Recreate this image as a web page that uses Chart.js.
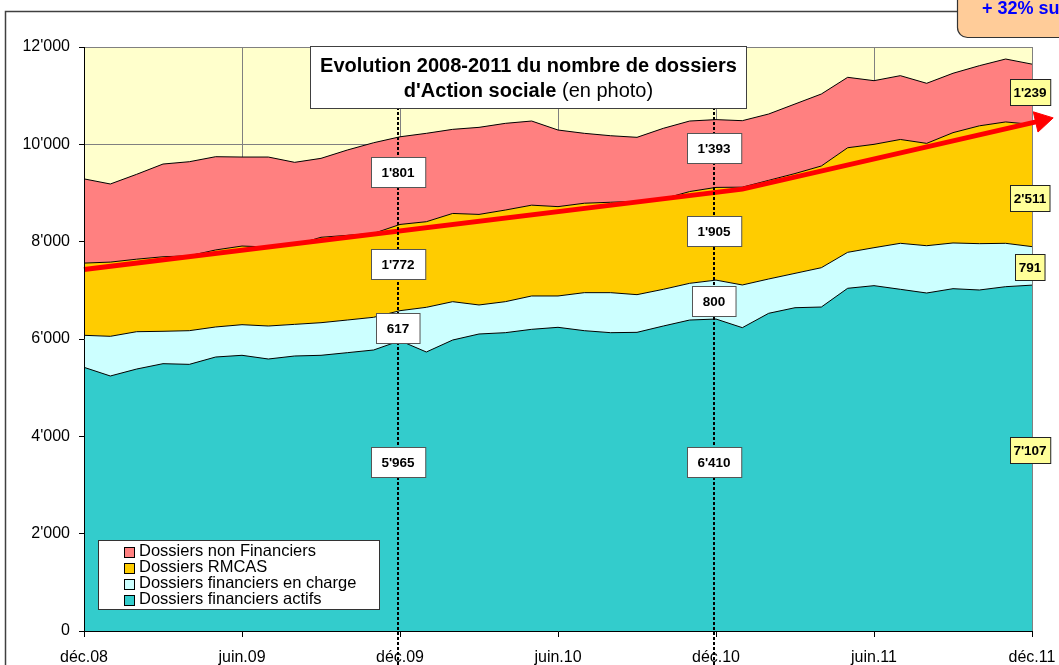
<!DOCTYPE html>
<html>
<head>
<meta charset="utf-8">
<script src="https://cdn.jsdelivr.net/npm/chart.js@4.4.1/dist/chart.umd.min.js"></script>
<style>
html,body{margin:0;padding:0;background:#fff;}
canvas{display:block;}
</style>
</head>
<body>
<canvas id="c" width="1059" height="665"></canvas>
<script>
// ---------- DATA ----------
const months = ['déc.08','janv.09','févr.09','mars.09','avr.09','mai.09','juin.09','juil.09','août.09','sept.09','oct.09','nov.09',
  'déc.09','janv.10','févr.10','mars.10','avr.10','mai.10','juin.10','juil.10','août.10','sept.10','oct.10','nov.10',
  'déc.10','janv.11','févr.11','mars.11','avr.11','mai.11','juin.11','juil.11','août.11','sept.11','oct.11','nov.11','déc.11'];

const actifs = [5418,5240,5383,5493,5479,5630,5665,5589,5651,5665,5719,5774,5965,5733,5979,6103,6130,6199,6240,6171,6130,6137,6267,6390,6410,6233,6528,6643,6657,7042,7096,7021,6945,7034,7007,7075,7107];
const enCharge = [658,815,767,665,692,617,629,678,650,670,671,672,617,918,788,596,637,685,644,781,822,774,754,754,800,877,705,706,808,739,780,945,972,939,952,891,791];
const rmcas = [1484,1525,1490,1532,1539,1583,1616,1623,1629,1755,1740,1724,1772,1759,1813,1861,1883,1866,1836,1838,1858,1919,1859,1886,1905,2010,2027,2051,2090,2149,2124,2134,2103,2267,2421,2494,2511];
const nonFin = [1730,1605,1744,1905,1933,1916,1829,1849,1700,1622,1753,1863,1801,1816,1728,1789,1781,1729,1574,1436,1367,1314,1449,1449,1393,1366,1363,1429,1479,1447,1308,1311,1234,1220,1236,1293,1239];

const trendIdx = [0, 25, 36.36];
const trendVals = [7430, 9080, 10488];

const yTickLabels = ["0","2'000","4'000","6'000","8'000","10'000","12'000"];
const seriesNames = ['Dossiers financiers actifs','Dossiers financiers en charge','Dossiers RMCAS','Dossiers non Financiers'];

// annotated months and where their boxes sit (in data units)
const annotIdx = [12, 24, 36];
const annotY = [[9430,7540,6230,3470],[9925,8220,6780,3470],[11075,8900,7480,3720]];

// ---------- STYLE ----------
const FONT = "'Liberation Sans', Arial, sans-serif";
const colors = ['#33CCCC','#CCFFFF','#FFCC00','#FF8080'];
const fmt = v => v >= 1000 ? Math.floor(v/1000) + "'" + String(v % 1000).padStart(3,'0') : String(v);
const toXY = arr => arr.map((v,i) => ({x:i, y:v}));

const decor = {
  id: 'decor',
  beforeDraw(chart) {
    const {ctx, chartArea: a} = chart;
    ctx.save();
    ctx.fillStyle = '#FFFFCC';
    ctx.fillRect(a.left, a.top, a.right - a.left, a.bottom - a.top);
    // outer frame
    ctx.strokeStyle = '#404040';
    ctx.lineWidth = 1.5;
    ctx.beginPath();
    ctx.moveTo(5.5, 666); ctx.lineTo(5.5, 11.5); ctx.lineTo(958, 11.5);
    ctx.stroke();
    ctx.restore();
  },
  afterDatasetsDraw(chart) {
    const {ctx, chartArea: a} = chart;
    const xs = chart.scales.x, ys = chart.scales.y;
    ctx.save();
    // dotted vertical markers
    ctx.strokeStyle = '#000';
    ctx.lineWidth = 2;
    ctx.setLineDash([3,2]);
    [12, 24].forEach(i => {
      const px = Math.round(xs.getPixelForValue(i)) - 2;
      ctx.beginPath(); ctx.moveTo(px, a.top); ctx.lineTo(px, 665); ctx.stroke();
    });
    ctx.setLineDash([]);
    // value boxes
    ctx.font = "bold 13.5px " + FONT;
    ctx.textAlign = 'center';
    ctx.textBaseline = 'middle';
    annotIdx.forEach((idx, c) => {
      const vals = [nonFin[idx], rmcas[idx], enCharge[idx], actifs[idx]];
      const last = c === annotIdx.length - 1;
      const cx = xs.getPixelForValue(idx) - 2;
      vals.forEach((v, k) => {
        const t = fmt(v);
        const cy = ys.getPixelForValue(annotY[c][k]);
        const tw = ctx.measureText(t).width;
        const w = last ? tw + 7 : tw + 21;
        const h = last ? 26 : 30;
        const x0 = Math.round(cx - w/2) + 0.5, y0 = Math.round(cy - h/2) + 0.5;
        ctx.fillStyle = last ? '#FFFF99' : '#FFFFFF';
        ctx.fillRect(x0, y0, w, h);
        ctx.strokeStyle = last ? '#222' : '#555';
        ctx.lineWidth = 1;
        ctx.strokeRect(x0, y0, w, h);
        ctx.fillStyle = '#000';
        ctx.fillText(t, cx, cy + 1);
      });
    });
    ctx.restore();
  },
  afterDraw(chart) {
    const {ctx} = chart;
    ctx.save();
    // title box
    ctx.fillStyle = '#fff';
    ctx.fillRect(310.5, 46.5, 436, 62);
    ctx.strokeStyle = '#404040';
    ctx.lineWidth = 1;
    ctx.strokeRect(310.5, 46.5, 436, 62);
    ctx.fillStyle = '#000';
    ctx.textBaseline = 'alphabetic';
    ctx.textAlign = 'center';
    ctx.font = "bold 20px " + FONT;
    ctx.fillText('Evolution 2008-2011 du nombre de dossiers', 528.5, 72);
    const p1 = "d'Action sociale", p2 = " (en photo)";
    ctx.font = "bold 20px " + FONT; const w1 = ctx.measureText(p1).width;
    ctx.font = "20px " + FONT; const w2 = ctx.measureText(p2).width;
    const sx = 528.5 - (w1 + w2) / 2;
    ctx.textAlign = 'left';
    ctx.font = "bold 20px " + FONT; ctx.fillText(p1, sx, 97);
    ctx.font = "20px " + FONT; ctx.fillText(p2, sx + w1, 97);

    // legend
    ctx.fillStyle = '#fff';
    ctx.fillRect(98.5, 540.5, 281, 69);
    ctx.strokeStyle = '#333';
    ctx.strokeRect(98.5, 540.5, 281, 69);
    const order = [3, 2, 1, 0];
    const rows = [551.8, 567.7, 583.6, 599.5];
    ctx.font = "16.5px " + FONT;
    ctx.textBaseline = 'middle';
    order.forEach((d, r) => {
      const cy = rows[r];
      ctx.fillStyle = colors[d];
      ctx.fillRect(124.5, Math.round(cy - 5) + 0.5, 10, 10);
      ctx.strokeStyle = '#000';
      ctx.strokeRect(124.5, Math.round(cy - 5) + 0.5, 10, 10);
      ctx.fillStyle = '#000';
      ctx.fillText(chart.data.datasets[d].label, 139, cy);
    });

    // callout box top right
    ctx.beginPath();
    ctx.roundRect(957.5, -20, 160, 57.5, 10);
    ctx.fillStyle = '#FFCC99';
    ctx.fill();
    ctx.strokeStyle = '#333';
    ctx.lineWidth = 1.2;
    ctx.stroke();
    ctx.fillStyle = '#0000FF';
    ctx.font = "bold 18px " + FONT;
    ctx.textBaseline = 'alphabetic';
    ctx.textAlign = 'left';
    ctx.fillText('+ 32% sur 3 ans', 982, 14);
    ctx.restore();
  }
};

const areaDs = (i, data, fill) => ({
  label: seriesNames[i], data: toXY(data), backgroundColor: colors[i], borderColor: '#000',
  borderWidth: 1, fill: fill, pointRadius: 0, stack: 's', tension: 0
});

new Chart(document.getElementById('c'), {
  type: 'line',
  data: {
    datasets: [
      areaDs(0, actifs, 'origin'),
      areaDs(1, enCharge, '-1'),
      areaDs(2, rmcas, '-1'),
      areaDs(3, nonFin, '-1'),
      {
        label: 'Tendance', data: trendIdx.map((x, i) => ({x: x, y: trendVals[i]})), stack: 'trend',
        borderColor: '#FF0000', borderWidth: 5, fill: false, clip: false, order: -1,
        pointStyle: 'triangle', pointRotation: 77,
        pointRadius: ctx => ctx.dataIndex === trendIdx.length - 1 ? 12 : 0,
        pointHoverRadius: 0, pointBackgroundColor: '#FF0000', pointBorderColor: '#FF0000', pointBorderWidth: 1
      }
    ]
  },
  options: {
    responsive: false, animation: false, devicePixelRatio: 1,
    layout: {padding: {left: 0, top: 47, right: 27, bottom: 0}},
    plugins: {legend: {display: false}, tooltip: {enabled: false}, title: {display: false}},
    events: [],
    scales: {
      x: {
        type: 'linear', min: 0, max: 36,
        afterFit: s => { s.height = 34; s.paddingRight = 0; s.paddingLeft = 0; },
        ticks: {stepSize: 6, autoSkip: false, maxRotation: 0, padding: 11, color: '#000',
          font: {family: FONT, size: 16},
          callback: v => (v % 6 === 0 ? months[v] : '')},
        grid: {color: '#808080', lineWidth: 1, tickLength: 6, tickColor: '#000', drawTicks: true},
        border: {color: '#000', width: 1, z: 1}
      },
      y: {
        stacked: true, min: 0, max: 12000,
        afterFit: s => { s.width = 84; s.paddingTop = 0; s.paddingBottom = 0; },
        ticks: {stepSize: 2000, padding: 9, color: '#000', font: {family: FONT, size: 16},
          callback: v => yTickLabels[Math.round(v / 2000)]},
        grid: {color: '#808080', lineWidth: 1, tickLength: 5, tickColor: '#000', drawTicks: true},
        border: {color: '#000', width: 1, z: 1}
      }
    }
  },
  plugins: [decor]
});
</script>
</body>
</html>
